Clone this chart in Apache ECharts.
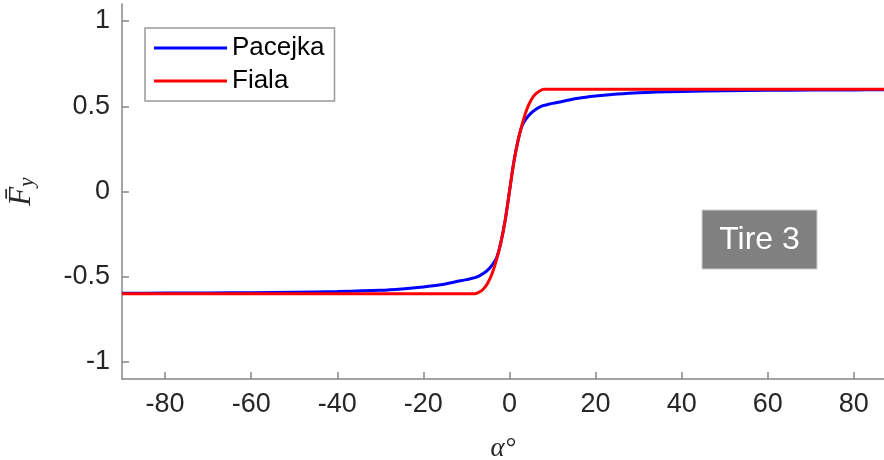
<!DOCTYPE html>
<html>
<head>
<meta charset="utf-8">
<script src="https://cdn.jsdelivr.net/npm/echarts@6/dist/echarts.min.js"></script>
<style>
  html, body { margin: 0; padding: 0; background: #fff; }
  #chart { width: 884px; height: 460px; }
</style>
</head>
<body>
<div id="chart"></div>
<script>
// slip angle (deg) and normalized lateral force
const alphaDeg = [-90, -80, -70, -60, -50, -40, -30, -25, -20, -16, -12, -10, -9, -8, -7, -6, -5, -4, -3, -2, -1,
  0, 1, 2, 3, 4, 5, 6, 7, 8, 9, 10, 12, 16, 20, 25, 30, 40, 50, 60, 70, 80, 87];
const pacejka = [-0.597, -0.596, -0.595, -0.594, -0.591, -0.587, -0.58, -0.572, -0.56, -0.547, -0.527, -0.517, -0.511, -0.505, -0.495, -0.48, -0.46, -0.43, -0.39, -0.3, -0.17,
  0, 0.17, 0.3, 0.39, 0.43, 0.46, 0.48, 0.495, 0.505, 0.511, 0.517, 0.527, 0.547, 0.56, 0.572, 0.58, 0.587, 0.591, 0.594, 0.595, 0.596, 0.597];
const fiala = [-0.6, -0.6, -0.6, -0.6, -0.6, -0.6, -0.6, -0.6, -0.6, -0.6, -0.6, -0.6, -0.6, -0.6, -0.59, -0.57, -0.535, -0.48, -0.4, -0.3, -0.17,
  0, 0.17, 0.3, 0.4, 0.48, 0.535, 0.57, 0.59, 0.6, 0.6, 0.6, 0.6, 0.6, 0.6, 0.6, 0.6, 0.6, 0.6, 0.6, 0.6, 0.6, 0.6];
const xTicks = [-80, -60, -40, -20, 0, 20, 40, 60, 80];
const yTicks = [-1, -0.5, 0, 0.5, 1];

const chart = echarts.init(document.getElementById('chart'));
const font = 'Liberation Sans, Arial, sans-serif';
const axisGray = '#878787';

const option = {
  backgroundColor: '#ffffff',
  animation: false,
  grid: { left: 122, right: 0, top: 4, bottom: 81, containLabel: false, outerBoundsMode: 'none' },
  legend: {
    left: 145,
    top: 28,
    orient: 'vertical',
    icon: 'rect',
    itemWidth: 73,
    itemHeight: 3,
    itemGap: 7,
    padding: [7, 10, 7, 9],
    borderColor: '#999999',
    borderWidth: 1.5,
    backgroundColor: '#ffffff',
    textStyle: { fontFamily: font, fontSize: 26, color: '#000000' },
    data: ['Pacejka', 'Fiala']
  },
  xAxis: {
    type: 'value',
    min: -90,
    max: 87,
    name: 'α°',
    nameLocation: 'middle',
    nameGap: 56,
    nameTextStyle: { fontFamily: 'Liberation Serif, serif', fontStyle: 'italic', fontSize: 27, color: '#262626' },
    axisLine: { onZero: false, lineStyle: { color: axisGray, width: 1.5 } },
    axisTick: { inside: true, length: 7, customValues: xTicks, lineStyle: { color: axisGray, width: 1.5 } },
    axisLabel: { customValues: xTicks, fontFamily: font, fontSize: 27, color: '#262626', margin: 12 },
    splitLine: { show: false }
  },
  yAxis: {
    type: 'value',
    min: -1.1,
    max: 1.1,
    name: '{f|F\u0304}{s|y}',
    nameLocation: 'middle',
    nameRotate: 90,
    nameGap: 84,
    nameTextStyle: {
      rich: {
        f: { fontFamily: 'Liberation Serif, serif', fontStyle: 'italic', fontSize: 31, color: '#262626' },
        s: { fontFamily: 'Liberation Serif, serif', fontStyle: 'italic', fontSize: 21, color: '#262626', padding: [11, 0, 0, 0] }
      }
    },
    axisLine: { onZero: false, lineStyle: { color: axisGray, width: 1.5 } },
    axisTick: { inside: true, length: 7, customValues: yTicks, lineStyle: { color: axisGray, width: 1.5 } },
    axisLabel: { customValues: yTicks, fontFamily: font, fontSize: 27, color: '#262626', margin: 12 },
    splitLine: { show: false }
  },
  graphic: [
    {
      type: 'rect',
      shape: { x: 702, y: 210, width: 115, height: 59 },
      style: { fill: '#808080', stroke: '#d0d0d0', lineWidth: 1 },
      z: 100
    },
    {
      type: 'text',
      x: 759.5,
      y: 240,
      style: { text: 'Tire 3', fill: '#ffffff', font: '32px Liberation Sans, Arial, sans-serif', align: 'center', verticalAlign: 'middle' },
      z: 101
    }
  ],
  series: [
    {
      name: 'Pacejka',
      type: 'line',
      showSymbol: false,
      smooth: 0.3,
      color: '#0000ff',
      lineStyle: { width: 3, color: '#0000ff' },
      data: alphaDeg.map((a, i) => [a, pacejka[i]])
    },
    {
      name: 'Fiala',
      type: 'line',
      showSymbol: false,
      smooth: 0.3,
      color: '#ff0000',
      lineStyle: { width: 3, color: '#ff0000' },
      data: alphaDeg.map((a, i) => [a, fiala[i]])
    }
  ]
};

chart.setOption(option);
</script>
</body>
</html>
